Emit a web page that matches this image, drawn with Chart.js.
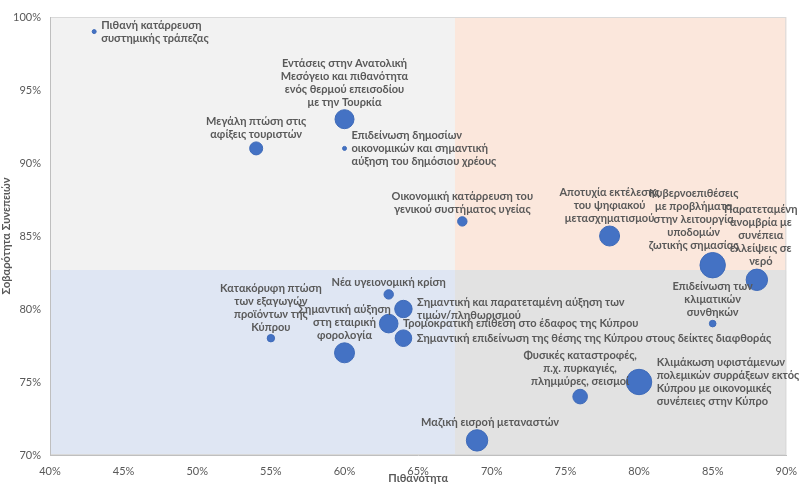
<!DOCTYPE html>
<html><head><meta charset="utf-8">
<script src="https://cdn.jsdelivr.net/npm/chart.js@4.4.1/dist/chart.umd.min.js"></script>
<style>html,body{margin:0;padding:0;background:#fff}</style>
</head><body>
<canvas id="c" width="800" height="485" style="width:800px;height:485px;display:block"></canvas>
<script>
// ---- data ----
const risks = [
  "Πιθανή κατάρρευση\nσυστημικής τράπεζας",
  "Εντάσεις στην Ανατολική\nΜεσόγειο και πιθανότητα\nενός θερμού επεισοδίου\nμε την Τουρκία",
  "Μεγάλη πτώση στις\nαφίξεις τουριστών",
  "Επιδείνωση δημοσίων\nοικονομικών και σημαντική\nαύξηση του δημόσιου χρέους",
  "Οικονομική κατάρρευση του\nγενικού συστήματος υγείας",
  "Αποτυχία εκτέλεσης\nτου ψηφιακού\nμετασχηματισμού",
  "Κυβερνοεπιθέσεις\nμε προβλήματα\nστην λειτουργία\nυποδομών\nζωτικής σημασίας",
  "Παρατεταμένη\nανομβρία με\nσυνέπεια\nελλείψεις σε\nνερό",
  "Επιδείνωση των\nκλιματικών\nσυνθηκών",
  "Νέα υγειονομική κρίση",
  "Σημαντική και παρατεταμένη αύξηση των\nτιμών/πληθωρισμού",
  "Τρομοκρατική επίθεση στο έδαφος της Κύπρου",
  "Σημαντική επιδείνωση της θέσης της Κύπρου στους δείκτες διαφθοράς",
  "Σημαντική αύξηση\nστη εταιρική\nφορολογία",
  "Κατακόρυφη πτώση\nτων εξαγωγών\nπροϊόντων της\nΚύπρου",
  "Φυσικές καταστροφές,\nπ.χ. πυρκαγιές,\nπλημμύρες, σεισμοί",
  "Κλιμάκωση υφιστάμενων\nπολεμικών συρράξεων εκτός\nΚύπρου με οικονομικές\nσυνέπειες στην Κύπρο",
  "Μαζική εισροή μεταναστών"
];
const probability = [43, 60, 54, 60, 68, 78, 85, 88, 85, 63, 64, 63, 64, 60, 55, 76, 80, 69];
const severity    = [99, 93, 91, 91, 86, 85, 83, 82, 79, 81, 80, 79, 78, 77, 78, 74, 75, 71];
const bubbleSize  = [2, 9.5, 6.5, 2, 4.7, 10, 12.7, 10.7, 3.3, 4.7, 8.7, 9.3, 8.3, 10, 3.7, 7.3, 12.7, 10.7];
const xTicks = [40, 45, 50, 55, 60, 65, 70, 75, 80, 85, 90];
const yTicks = [70, 75, 80, 85, 90, 95, 100];
const xTitle = "Πιθανότητα";
const yTitle = "Σοβαρότητα Συνεπειών";

// ---- label placement (style, not data) ----
const labelPlace = [
  {p:'right'}, {p:'above'}, {p:'above'}, {p:'right'}, {p:'above'}, {p:'above'},
  {p:'above', dx:-19}, {p:'above', dx:4}, {p:'above'}, {p:'above'}, {p:'right'},
  {p:'right'}, {p:'right'}, {p:'above'}, {p:'above'}, {p:'above'}, {p:'right'},
  {p:'above', dx:13}
];

const mean = a => a.reduce((s,v)=>s+v,0)/a.length;
const splitX = mean(probability);
const splitY = 82.67;

const quadrantPlugin = {
  id: 'quadrants',
  beforeDraw(chart) {
    const {ctx, chartArea: a, scales: {x, y}} = chart;
    const mx = x.getPixelForValue(splitX), my = y.getPixelForValue(splitY);
    ctx.save();
    ctx.fillStyle = '#f2f2f2'; ctx.fillRect(a.left, a.top, mx - a.left, my - a.top);
    ctx.fillStyle = '#fbe7dc'; ctx.fillRect(mx, a.top, a.right - mx, my - a.top);
    ctx.fillStyle = '#dfe6f3'; ctx.fillRect(a.left, my, mx - a.left, a.bottom - my);
    ctx.fillStyle = '#e2e2e2'; ctx.fillRect(mx, my, a.right - mx, a.bottom - my);
    ctx.strokeStyle = '#d9d9d9'; ctx.lineWidth = 1;
    ctx.strokeRect(a.left + 0.5, a.top + 0.5, a.right - a.left - 1, a.bottom - a.top - 1);
    ctx.restore();
  }
};

const labelPlugin = {
  id: 'bubbleLabels',
  afterDatasetsDraw(chart) {
    const ctx = chart.ctx;
    const meta = chart.getDatasetMeta(0);
    const lh = 13;
    ctx.save();
    ctx.font = 'bold 11px Lato';
    ctx.fillStyle = '#595959';
    ctx.textBaseline = 'middle';
    meta.data.forEach((el, i) => {
      const r = el.options.radius;
      const lines = risks[i].split('\n');
      const pl = labelPlace[i];
      const dx = pl.dx || 0;
      if (pl.p === 'above') {
        ctx.textAlign = 'center';
        const lastY = el.y - r - 7.5;
        lines.forEach((t, k) => ctx.fillText(t, el.x + dx, lastY - (lines.length - 1 - k) * lh));
      } else {
        ctx.textAlign = 'left';
        const y0 = el.y - (lines.length - 1) * lh / 2;
        lines.forEach((t, k) => ctx.fillText(t, el.x + r + 5 + dx, y0 + k * lh));
      }
    });
    ctx.restore();
  }
};

new Chart(document.getElementById('c'), {
  type: 'bubble',
  data: {
    datasets: [{
      data: probability.map((v, i) => ({x: v, y: severity[i], r: bubbleSize[i]})),
      backgroundColor: '#4472c4',
      borderColor: '#3f6bb9',
      borderWidth: 1,
      hoverRadius: 0
    }]
  },
  options: {
    responsive: false,
    devicePixelRatio: 1,
    animation: false,
    layout: {padding: {top: 17, right: 12, left: 0, bottom: 0}},
    plugins: {legend: {display: false}, tooltip: {enabled: false}},
    scales: {
      x: {
        type: 'linear', min: 40, max: 90,
        afterBuildTicks: s => { s.ticks = xTicks.map(v => ({value: v})); },
        afterFit: s => { s.height = 30; s.paddingLeft = 0; s.paddingRight = 0; },
        grid: {color: 'rgba(0,0,0,0)', drawTicks: false},
        border: {display: true, color: '#bfbfbf', width: 1},
        ticks: {padding: 10, color: '#595959', font: {family: 'Lato', size: 11}, callback: v => v + '%'},
        title: {display: true, text: xTitle, color: '#595959', font: {family: 'Lato', size: 11, weight: 'bold'}, padding: {top: 0, bottom: 0}}
      },
      y: {
        type: 'linear', min: 70, max: 100,
        afterBuildTicks: s => { s.ticks = yTicks.map(v => ({value: v})); },
        afterFit: s => { s.width = 50; s.paddingTop = 0; s.paddingBottom = 0; },
        grid: {color: 'rgba(0,0,0,0)', drawTicks: false},
        border: {display: true, color: '#bfbfbf', width: 1},
        ticks: {padding: 9, color: '#595959', font: {family: 'Lato', size: 11}, callback: v => v + '%'},
        title: {display: true, text: yTitle, color: '#595959', font: {family: 'Lato', size: 11, weight: 'bold'}, padding: {top: 0, bottom: 0}}
      }
    }
  },
  plugins: [quadrantPlugin, labelPlugin]
});
</script>
</body></html>
